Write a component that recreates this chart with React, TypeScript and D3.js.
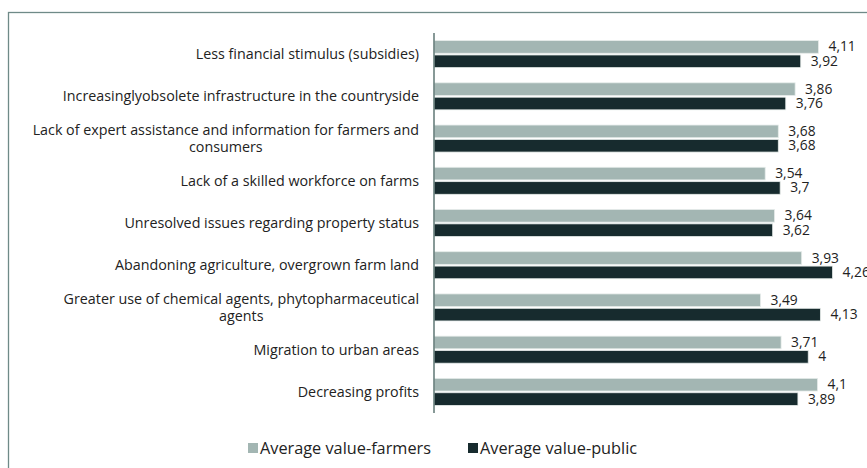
import { useEffect, useRef } from "react";
import * as d3 from "d3";

const categories = [
  ["Less financial stimulus (subsidies)"],
  ["Increasinglyobsolete infrastructure in the countryside"],
  ["Lack of expert assistance and information for farmers and", "consumers"],
  ["Lack of a skilled workforce on farms"],
  ["Unresolved issues regarding property status"],
  ["Abandoning agriculture, overgrown farm land"],
  ["Greater use of chemical agents, phytopharmaceutical", "agents"],
  ["Migration to urban areas"],
  ["Decreasing profits "],
];
const farmers = [4.11, 3.86, 3.68, 3.54, 3.64, 3.93, 3.49, 3.71, 4.1];
const publicValues = [3.92, 3.76, 3.68, 3.7, 3.62, 4.26, 4.13, 4, 3.89];
const seriesNames = ["Average value-farmers", "Average value-public"];
const colors = ["#a3b6b3", "#172b2e"];

const fmt = (v: number) => String(v).replace(".", ",");

export default function App() {
  const ref = useRef<SVGSVGElement>(null);

  useEffect(() => {
    const width = 867;
    const height = 468;
    const svg = d3.select(ref.current);
    svg.selectAll("*").remove();
    svg.attr("width", width).attr("height", height);

    const font = "'Open Sans', sans-serif";
    const labelSize = 14.3;

    svg
      .append("rect")
      .attr("x", 8.5)
      .attr("y", 12.5)
      .attr("width", width + 20)
      .attr("height", height + 20)
      .attr("fill", "#fff")
      .attr("stroke", "#6f8a88")
      .attr("stroke-width", 1.3);

    const x = d3.scaleLinear().domain([0, 4.5]).range([434, 855]);
    const y = d3
      .scaleBand()
      .domain(categories.map((_, i) => String(i)))
      .range([33, 413])
      .paddingInner(0.36)
      .paddingOuter(0.18);
    const inner = d3.scaleBand().domain(["0", "1"]).range([0, y.bandwidth()]).paddingInner(0.12);

    const series = [farmers, publicValues];
    series.forEach((vals, s) => {
      const g = svg.append("g");
      g.selectAll("rect")
        .data(vals)
        .join("rect")
        .attr("x", x(0))
        .attr("y", (_, i) => (y(String(i)) || 0) + (inner(String(s)) || 0))
        .attr("width", (v) => x(v) - x(0))
        .attr("height", inner.bandwidth())
        .attr("fill", colors[s])
        .attr("stroke", "#e6ecea")
        .attr("stroke-width", 0.8);
      g.selectAll("text")
        .data(vals)
        .join("text")
        .attr("x", (v) => x(v) + 10)
        .attr("y", (_, i) => (y(String(i)) || 0) + (inner(String(s)) || 0) + inner.bandwidth() / 2 + 4.5)
        .attr("font-family", font)
        .attr("font-size", 13.8)
        .attr("fill", "#222")
        .text((v) => fmt(v));
    });

    svg
      .append("line")
      .attr("x1", x(0))
      .attr("x2", x(0))
      .attr("y1", 33)
      .attr("y2", 413)
      .attr("stroke", "#5f7775")
      .attr("stroke-width", 1.5);

    const labelRight = 419;
    categories.forEach((lines, i) => {
      const cy = (y(String(i)) || 0) + y.bandwidth() / 2;
      const lh = 16.5;
      const t = svg
        .append("text")
        .attr("font-family", font)
        .attr("font-size", labelSize)
        .attr("fill", "#222");
      if (lines.length === 1) {
        t.attr("x", labelRight).attr("y", cy + 5).attr("text-anchor", "end").text(lines[0]);
      } else {
        const probe = svg
          .append("text")
          .attr("font-family", font)
          .attr("font-size", labelSize)
          .text(lines[0]);
        const w = (probe.node() as SVGTextElement).getComputedTextLength();
        probe.remove();
        const center = labelRight - w / 2;
        t.attr("text-anchor", "middle");
        lines.forEach((line, k) => {
          t.append("tspan")
            .attr("x", center)
            .attr("y", cy + 5 + (k - (lines.length - 1) / 2) * lh)
            .text(line);
        });
      }
    });

    const legendX = [248, 468];
    seriesNames.forEach((name, s) => {
      svg
        .append("rect")
        .attr("x", legendX[s])
        .attr("y", 443)
        .attr("width", 10)
        .attr("height", 10)
        .attr("fill", colors[s]);
      svg
        .append("text")
        .attr("x", legendX[s] + 12)
        .attr("y", 453.5)
        .attr("font-family", font)
        .attr("font-size", 16.3)
        .attr("fill", "#222")
        .text(name);
    });
  }, []);

  return <svg ref={ref} style={{ position: "absolute", left: 0, top: 0 }} />;
}
